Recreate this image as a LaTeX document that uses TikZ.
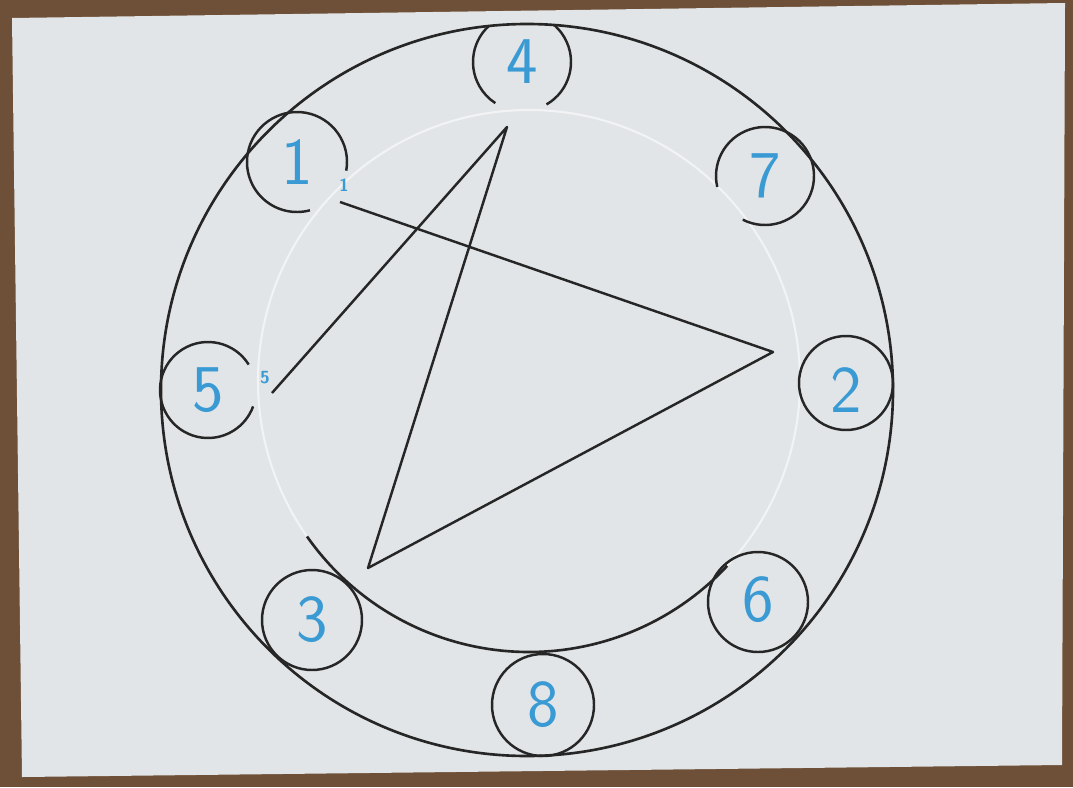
\documentclass[tikz,border=0pt]{standalone}
\usepackage{tikz}

\definecolor{wood}{HTML}{6E5038}
\definecolor{paper}{HTML}{E2E5E7}
\definecolor{pen}{HTML}{262626}
\definecolor{ink}{HTML}{3A9AD4}

\tikzset{
    ring/.style={line width=0.75pt, pen},
    seat/.style={line width=0.7pt, pen},
    num/.style={ink, font=\sffamily\fontsize{19}{19}\selectfont, inner sep=0pt},
    tag/.style={ink, font=\sffamily\bfseries\fontsize{5}{5}\selectfont, inner sep=0pt}
}

\begin{document}
\begin{tikzpicture}[x=0.01cm, y=0.01cm]
    \useasboundingbox (0,0) rectangle (1073,787);

    % Table and sheet
    \fill[wood] (0,0) rectangle (1073,787);
    \fill[paper] (12,769) -- (1065,784) -- (1062,22) -- (22,10) -- cycle;

    % Outer ring and inner disc
    \draw[ring] (527,397) circle (366);
    \draw[line width=0.6pt, paper!45!white] (529,406) circle (271);
    \draw[ring] (529,406) ++(-145:271) arc[start angle=-145, end angle=-43, radius=271];

    % Numbered seats
    \node[num] (n1) at (297,625) {1};
    \node[num] (n4) at (522,725) {4};
    \node[num] (n7) at (765,611) {7};
    \node[num] (n5) at (208,397) {5};
    \node[num] (n2) at (846,397) {2};
    \node[num] (n3) at (312,167) {3};
    \node[num] (n6) at (758,187) {6};
    \node[num] (n8) at (543,82) {8};

    \draw[seat] (297,625) ++(-10:50) arc[start angle=-10, end angle=285, radius=50];
    \begin{scope}
        \clip (527,397) circle (366);
        \draw[seat] (522,725) ++(-60:49) arc[start angle=-60, end angle=237, radius=49];
    \end{scope}
    \draw[seat] (765,611) ++(243:49) arc[start angle=243, end angle=553, radius=49];
    \draw[seat] (208,397) ++(32:48) arc[start angle=32, end angle=340, radius=48];
    \draw[seat] (846,404) circle (47);
    \draw[seat] (312,167) circle (50);
    \draw[seat] (758,185) circle (50);
    \draw[seat] (543,82) circle (51);

    % Path of the star
    \coordinate (p1) at (340,585);
    \coordinate (p2) at (773,435);
    \coordinate (p3) at (368,219);
    \coordinate (p4) at (507,660);
    \coordinate (p5) at (272,394);
    \draw[seat, line join=round] (p1) -- (p2) -- (p3) -- (p4) -- (p5);

    \node[tag] (t1) at (344,602) {1};
    \node[tag] (t5) at (265,409) {5};
\end{tikzpicture}
\end{document}
